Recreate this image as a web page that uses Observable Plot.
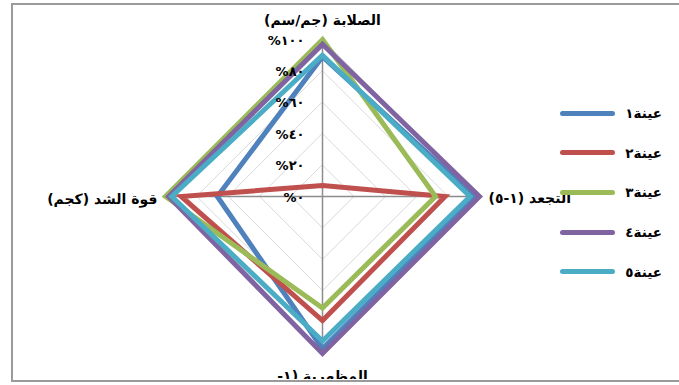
<!DOCTYPE html>
<html>
<head>
<meta charset="utf-8">
<script src="https://cdn.jsdelivr.net/npm/d3@7"></script>
<script src="https://cdn.jsdelivr.net/npm/@observablehq/plot@0.6"></script>
<style>
  html, body { margin: 0; padding: 0; background: #fff; overflow: hidden; }
  #wrap { position: relative; width: 679px; height: 385px; overflow: hidden; }
  #frame { position: absolute; left: 11px; top: 3px; width: 720px; height: 375px;
           border-top: 2px solid #9a9a9a; border-left: 2px solid #9a9a9a; border-bottom: 2px solid #9a9a9a; }
  #chart svg text { direction: rtl; }
  #legend { position: absolute; left: 558px; top: 103px; }
  .item { position: relative; height: 39.7px; width: 110px; }
  .sw { position: absolute; left: 2px; top: 7.5px; width: 55px; height: 5px; border-radius: 3px; }
  .lb { position: absolute; right: 6px; top: 0px; direction: rtl; font: bold 13.5px "DejaVu Sans", sans-serif; line-height: 20px; color: #000; }
</style>
</head>
<body>
<div id="wrap">
  <div id="chart"></div>
  <div id="frame"></div>
  <div id="legend"></div>
</div>
<script>
// Categories (clockwise from top); bottom label is wrapped and its second line is cut off
const categories = ["الصلابة (جم/سم)", "التجعد (١-٥)", "المظهرية (١-", "قوة الشد (كجم)"];
const seriesNames = ["عينة١", "عينة٢", "عينة٣", "عينة٤", "عينة٥"];
const seriesColors = ["#4F81BD", "#C0504D", "#9BBB59", "#8064A2", "#4BACC6"];
// Values in percent, per series, in category order
const s1 = [89, 97, 97, 67];
const s2 = [7, 78, 79, 90];
const s3 = [100, 72, 71, 100];
const s4 = [97, 100, 100, 98];
const s5 = [90, 94, 92, 96];
const tickValues = [0, 20, 40, 60, 80, 100];
const tickLabels = ["٠%", "٢٠%", "٤٠%", "٦٠%", "٨٠%", "١٠٠%"];
const gridLevels = [20, 40, 60, 80, 100];

const allSeries = [s1, s2, s3, s4, s5];
const angle = i => i * Math.PI / 2;
const px = (v, i) => (v / 100) * Math.sin(angle(i));
const py = (v, i) => (v / 100) * Math.cos(angle(i));

const rows = [];
allSeries.forEach((vals, si) => vals.forEach((v, i) => rows.push({series: seriesNames[si], x: px(v, i), y: py(v, i)})));

const grid = [];
gridLevels.forEach(l => categories.forEach((c, i) => grid.push({level: l, x: px(l, i), y: py(l, i)})));

const spokes = categories.map((c, i) => ({x2: px(100, i), y2: py(100, i)}));

const ticks = tickValues.map((v, k) => ({y: v / 100, label: tickLabels[k]}));

const catPts = categories.map((c, i) => ({label: c, x: px(100, i), y: py(100, i)}));

const cx = 322, cy = 196, R = 157;
const font = '"DejaVu Sans", sans-serif';
const labStyle = {x: "x", y: "y", text: "label", fontSize: 14, fontWeight: "bold", fill: "#000"};

const chart = Plot.plot({
  width: 679,
  height: 385,
  marginTop: 4,
  marginLeft: 12,
  marginRight: 0,
  marginBottom: 6,
  style: {background: "transparent", fontFamily: font, overflow: "hidden"},
  x: {domain: [-1, 1], range: [cx - R, cx + R], axis: null},
  y: {domain: [-1, 1], range: [cy + R, cy - R], axis: null},
  color: {domain: seriesNames, range: seriesColors},
  marks: [
    Plot.line(grid, {x: "x", y: "y", z: "level", curve: "linear-closed", stroke: "#d9d9d9", strokeWidth: 1}),
    Plot.link(spokes, {x1: 0, y1: 0, x2: "x2", y2: "y2", stroke: "#8c8c8c", strokeWidth: 1.5}),
    Plot.line(rows, {x: "x", y: "y", z: "series", stroke: "series", curve: "linear-closed", strokeWidth: 5, strokeLinejoin: "miter", strokeMiterlimit: 10}),
    Plot.text(ticks, {x: 0, y: "y", text: "label", textAnchor: "start", dx: -18, dy: 1, fontSize: 13, fontWeight: "bold", fill: "#000"}),
    Plot.text([catPts[0]], {...labStyle, textAnchor: "middle", dy: -19}),
    Plot.text([catPts[1]], {...labStyle, textAnchor: "end", dx: 9, dy: 2}),
    Plot.text([catPts[2]], {...labStyle, textAnchor: "middle", dy: 23, clip: true}),
    Plot.text([catPts[3]], {...labStyle, textAnchor: "start", dx: -8, dy: 3})
  ]
});
document.getElementById("chart").appendChild(chart);

// legend
const lg = document.getElementById("legend");
seriesNames.forEach((n, k) => {
  const it = document.createElement("div");
  it.className = "item";
  const sw = document.createElement("div");
  sw.className = "sw";
  sw.style.background = seriesColors[k];
  const lb = document.createElement("div");
  lb.className = "lb";
  lb.textContent = n;
  it.appendChild(sw); it.appendChild(lb);
  lg.appendChild(it);
});
</script>
</body>
</html>
